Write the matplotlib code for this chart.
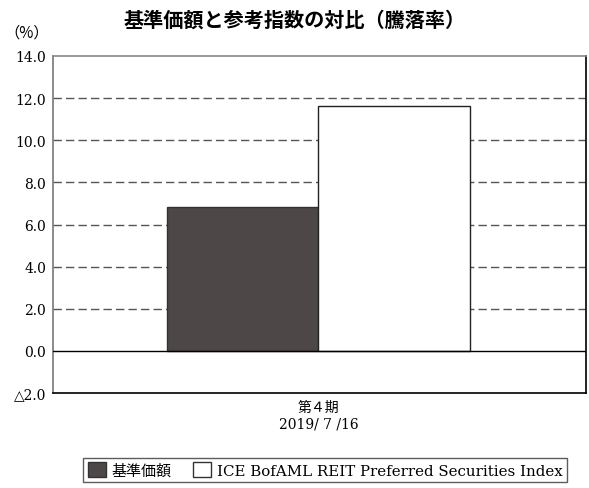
import matplotlib
matplotlib.use("Agg")
import matplotlib.pyplot as plt
from matplotlib.patches import Patch

SERIF = ['DejaVu Serif', 'Noto Sans CJK JP']
plt.rcParams['font.family'] = SERIF

categories = ["第４期\n2019/ 7 /16"]
series_names = ["基準価額", "ICE BofAML REIT Preferred Securities Index"]
fund_values = [6.85]
index_values = [11.62]
yticks = [-2, 0, 2, 4, 6, 8, 10, 12, 14]
ytick_labels = ["△2.0", "0.0", "2.0", "4.0", "6.0", "8.0", "10.0", "12.0", "14.0"]

fig = plt.figure(figsize=(5.89, 4.89), dpi=100)
ax = fig.add_axes([53/589, 1-394/489, (586-53)/589, (394-57)/489])

w = 0.285
x0 = 0.498
ax.bar([x0 - w/2], fund_values, width=w, color="#4d4847", edgecolor="#333333", linewidth=1.0, zorder=3)
ax.bar([x0 + w/2], index_values, width=w, color="white", edgecolor="#222222", linewidth=1.0, zorder=3)

ax.set_xlim(0, 1)
ax.set_ylim(-2, 14)
ax.set_yticks(yticks)
ax.set_yticklabels(ytick_labels, fontsize=10)
ax.set_xticks([x0])
ax.set_xticklabels(categories, fontsize=10, linespacing=1.2)
ax.tick_params(length=0, pad=5)

for y in [2, 4, 6, 8, 10, 12]:
    ax.axhline(y, color="#555555", linestyle=(0, (6, 3)), linewidth=1.0, zorder=1)
ax.axhline(0, color="black", linewidth=1.0, zorder=4)

ax.spines['left'].set_color("#777777")
ax.spines['top'].set_color("#888888")
ax.spines['right'].set_color("black")
ax.spines['bottom'].set_color("black")
for s in ax.spines.values():
    s.set_linewidth(1.2)

fig.text(0.5, 1-20/489, "基準価額と参考指数の対比（騰落率）", ha="center", va="center",
         fontsize=14.5, fontweight="bold", family=['Noto Sans CJK JP'])
fig.text(4/589, 1-33/489, "（%）", ha="left", va="center", fontsize=11, family=['Noto Sans CJK JP'])

handles = [Patch(facecolor="#4d4847", edgecolor="#333333"),
           Patch(facecolor="white", edgecolor="#333333")]
leg = fig.legend(handles, series_names, loc="center", bbox_to_anchor=(325/589, 1-471/489),
                 ncol=2, frameon=True, fancybox=False, edgecolor="#333333",
                 handlelength=1.2, handleheight=1.1, handletextpad=0.4,
                 columnspacing=1.4, borderpad=0.3,
                 prop={'family': SERIF, 'size': 10.8})
leg.get_frame().set_linewidth(1.0)

fig.savefig("out.png", dpi=100)
